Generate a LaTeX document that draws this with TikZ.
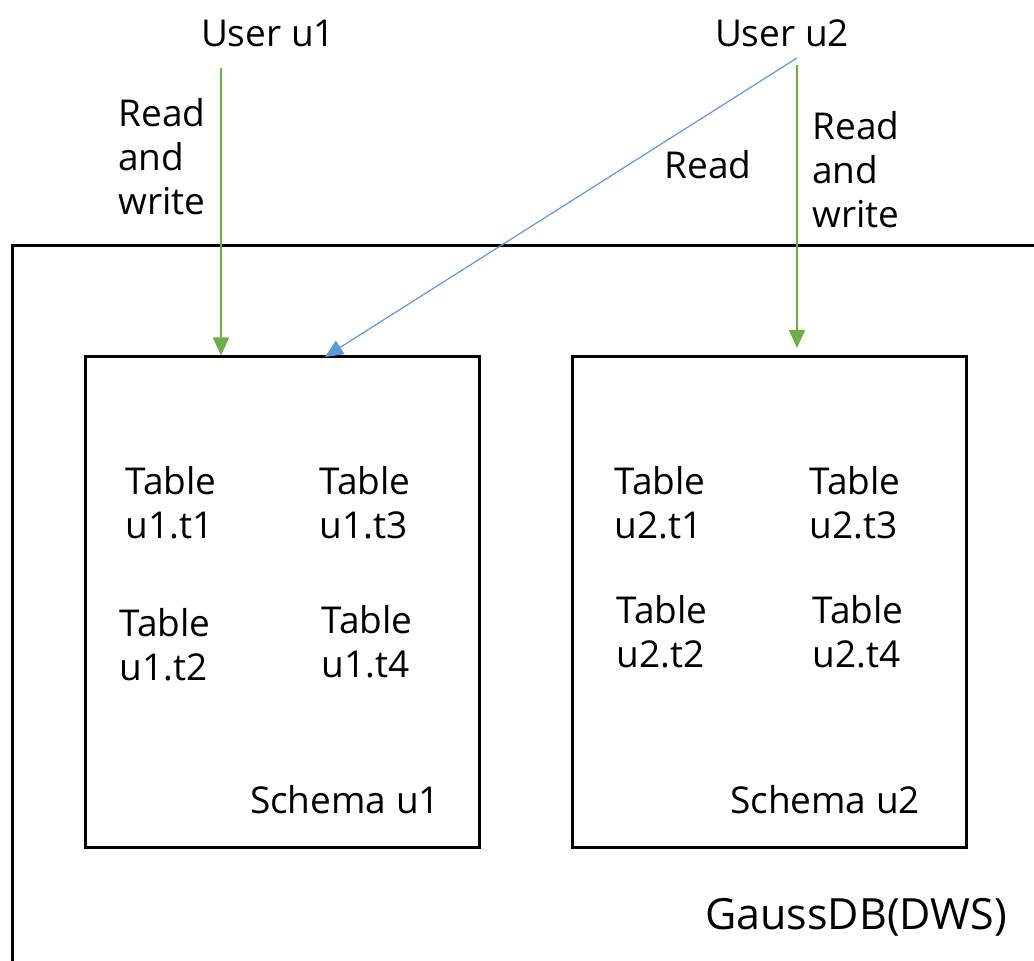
\documentclass[tikz,border=0pt]{standalone}
\usepackage{fontspec}
\setmainfont{Open Sans}
\usetikzlibrary{positioning}
\usetikzlibrary{arrows.meta}
\definecolor{rwgreen}{HTML}{70AD47}
\definecolor{rblue}{HTML}{5B9BD5}
\tikzset{
    txt/.style = {inner sep=0pt, align=left, font=\fontsize{18.5}{22}\selectfont},
    bigtxt/.style = {inner sep=0pt, font=\fontsize{21.5}{25}\selectfont},
    schema/.style = {rectangle, draw=black, line width=1.5pt, minimum width=197pt, minimum height=245.5pt, inner sep=0pt},
    dbbox/.style = {draw=black, line width=1.5pt},
    edgeg/.style = {-{Triangle[length=9pt,width=8pt]}, line width=0.8pt, rwgreen}, % read and write
    edgeb/.style = {-{Triangle[length=9pt,width=8pt]}, line width=0.6pt, rblue}, % read only
}

\begin{document}
\begin{tikzpicture}[x=0.5pt,y=-0.5pt]
\useasboundingbox (0,0) rectangle (1034,961);
%
\draw[dbbox] (1070,246) -- (12,246) -- (12,1000);
\node[schema] at (282,602.5) (s1) {};
\node[schema] at (769.5,602.5) (s2) {};
%
\node[txt] at (268,33) (u1) {User u1};
\node[txt] at (782,33) (u2) {User u2};
\node[txt,anchor=west] at (118,157) (rw1) {Read\\and\\write};
\node[txt,anchor=west] at (812,170) (rw2) {Read\\and\\write};
\node[txt] at (708,165) (rd) {Read};
%
\node[txt] at (171,503) (t11) {Table\\u1.t1};
\node[txt] at (365,503) (t13) {Table\\u1.t3};
\node[txt] at (165,645) (t12) {Table\\u1.t2};
\node[txt] at (367,642) (t14) {Table\\u1.t4};
\node[txt] at (660,503) (t21) {Table\\u2.t1};
\node[txt] at (855,503) (t23) {Table\\u2.t3};
\node[txt] at (662,632) (t22) {Table\\u2.t2};
\node[txt] at (858,632) (t24) {Table\\u2.t4};
\node[txt] at (345,800) (n1) {Schema u1};
\node[txt] at (825,800) (n2) {Schema u2};
\node[bigtxt] at (856,917) (db) {GaussDB(DWS)};
%
\coordinate (a1) at (221,68);
\coordinate (a2) at (797,65);
\coordinate (b2) at (797,58);
\coordinate (b1) at (325,357);
\coordinate (e2) at (797,348);
\draw[edgeg] (a1) -- (a1 |- s1.north);
\draw[edgeb] (b2) -- (b1);
\draw[edgeg] (a2) -- (e2);
\end{tikzpicture}
\end{document}
